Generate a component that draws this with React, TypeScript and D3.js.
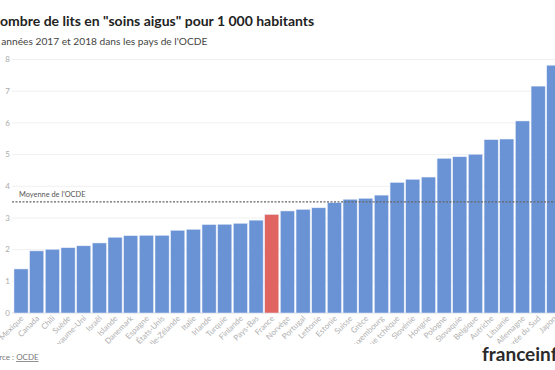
import * as d3 from "d3";

const countries = [
  "Mexique", "Canada", "Chili", "Suède", "Royaume-Uni", "Israël", "Islande",
  "Danemark", "Espagne", "États-Unis", "Nouvelle-Zélande", "Italie", "Irlande",
  "Turquie", "Finlande", "Pays-Bas", "France", "Norvège", "Portugal", "Lettonie",
  "Estonie", "Suisse", "Grèce", "Luxembourg", "République tchèque", "Slovénie",
  "Hongrie", "Pologne", "Slovaquie", "Belgique", "Autriche", "Lituanie",
  "Allemagne", "Corée du Sud", "Japon",
];

const beds = [
  1.39, 1.96, 2.01, 2.06, 2.12, 2.21, 2.39, 2.44, 2.45, 2.45, 2.61, 2.64, 2.79,
  2.8, 2.83, 2.93, 3.11, 3.22, 3.27, 3.32, 3.48, 3.59, 3.62, 3.72, 4.12, 4.22,
  4.29, 4.88, 4.93, 5.01, 5.47, 5.49, 6.06, 7.16, 7.82,
];

const yTicks = [0, 1, 2, 3, 4, 5, 6, 7, 8];
const oecdAverage = 3.51;
const highlight = "France";

export default function App() {
  const width = 555;
  const height = 370;

  const x = d3
    .scaleBand<string>()
    .domain(countries)
    .range([13.2, 13.2 + 548.45])
    .paddingInner(0.1)
    .paddingOuter(0.05);

  const y = d3.scaleLinear().domain([0, 8]).range([313, 59.5]);

  const font = "Lato, 'Open Sans', sans-serif";

  return (
    <svg
      width={width}
      height={height}
      style={{ position: "absolute", left: 0, top: 0, background: "#fff" }}
      fontFamily={font}
    >
      <defs>
        <clipPath id="labelClip">
          <rect x={0} y={314} width={width} height={30} />
        </clipPath>
      </defs>

      {/* titles */}
      <text x={-10.5} y={26} fontSize={14} fontWeight="bold" fill="#222">
        Nombre de lits en "soins aigus" pour 1 000 habitants
      </text>
      <text x={-16} y={45} fontSize={10.2} fill="#444">
        Les années 2017 et 2018 dans les pays de l'OCDE
      </text>

      {/* grid */}
      {yTicks.map((t) => (
        <g key={t}>
          <line
            x1={12}
            x2={width}
            y1={y(t)}
            y2={y(t)}
            stroke={t === 0 ? "#ddd" : "#f0f0f0"}
            strokeWidth={1}
          />
          <text
            x={10}
            y={y(t)}
            dy="0.35em"
            textAnchor="end"
            fontSize={8}
            fill="#aaa"
          >
            {t}
          </text>
        </g>
      ))}

      {/* bars */}
      {countries.map((c, i) => (
        <rect
          key={c}
          x={x(c)}
          y={y(beds[i])}
          width={x.bandwidth()}
          height={y(0) - y(beds[i])}
          fill={c === highlight ? "#e0645f" : "#6a93d6"}
          stroke="#e8eefa"
          strokeWidth={0.5}
        />
      ))}

      {/* OECD average */}
      <line
        x1={12}
        x2={width}
        y1={y(oecdAverage)}
        y2={y(oecdAverage)}
        stroke="#666"
        strokeWidth={1.3}
        strokeDasharray="2,1.5"
      />
      <text x={19} y={y(oecdAverage) - 5} fontSize={7.4} fill="#555">
        Moyenne de l'OCDE
      </text>

      {/* x labels */}
      <g clipPath="url(#labelClip)">
        {countries.map((c) => (
          <text
            key={c}
            transform={`translate(${(x(c) ?? 0) + x.bandwidth() / 2 + 3},${319}) rotate(-45)`}
            textAnchor="end"
            fontSize={8}
            fill="#b0b0b0"
          >
            {c}
          </text>
        ))}
      </g>

      {/* source */}
      <text x={-14} y={360} fontSize={8} fill="#777">
        Source : <tspan textDecoration="underline">OCDE</tspan>
      </text>

      {/* logo */}
      <text x={482} y={361} fontSize={19} fontWeight="bold" fill="#2a2a2a">
        franceinfo
      </text>
    </svg>
  );
}
